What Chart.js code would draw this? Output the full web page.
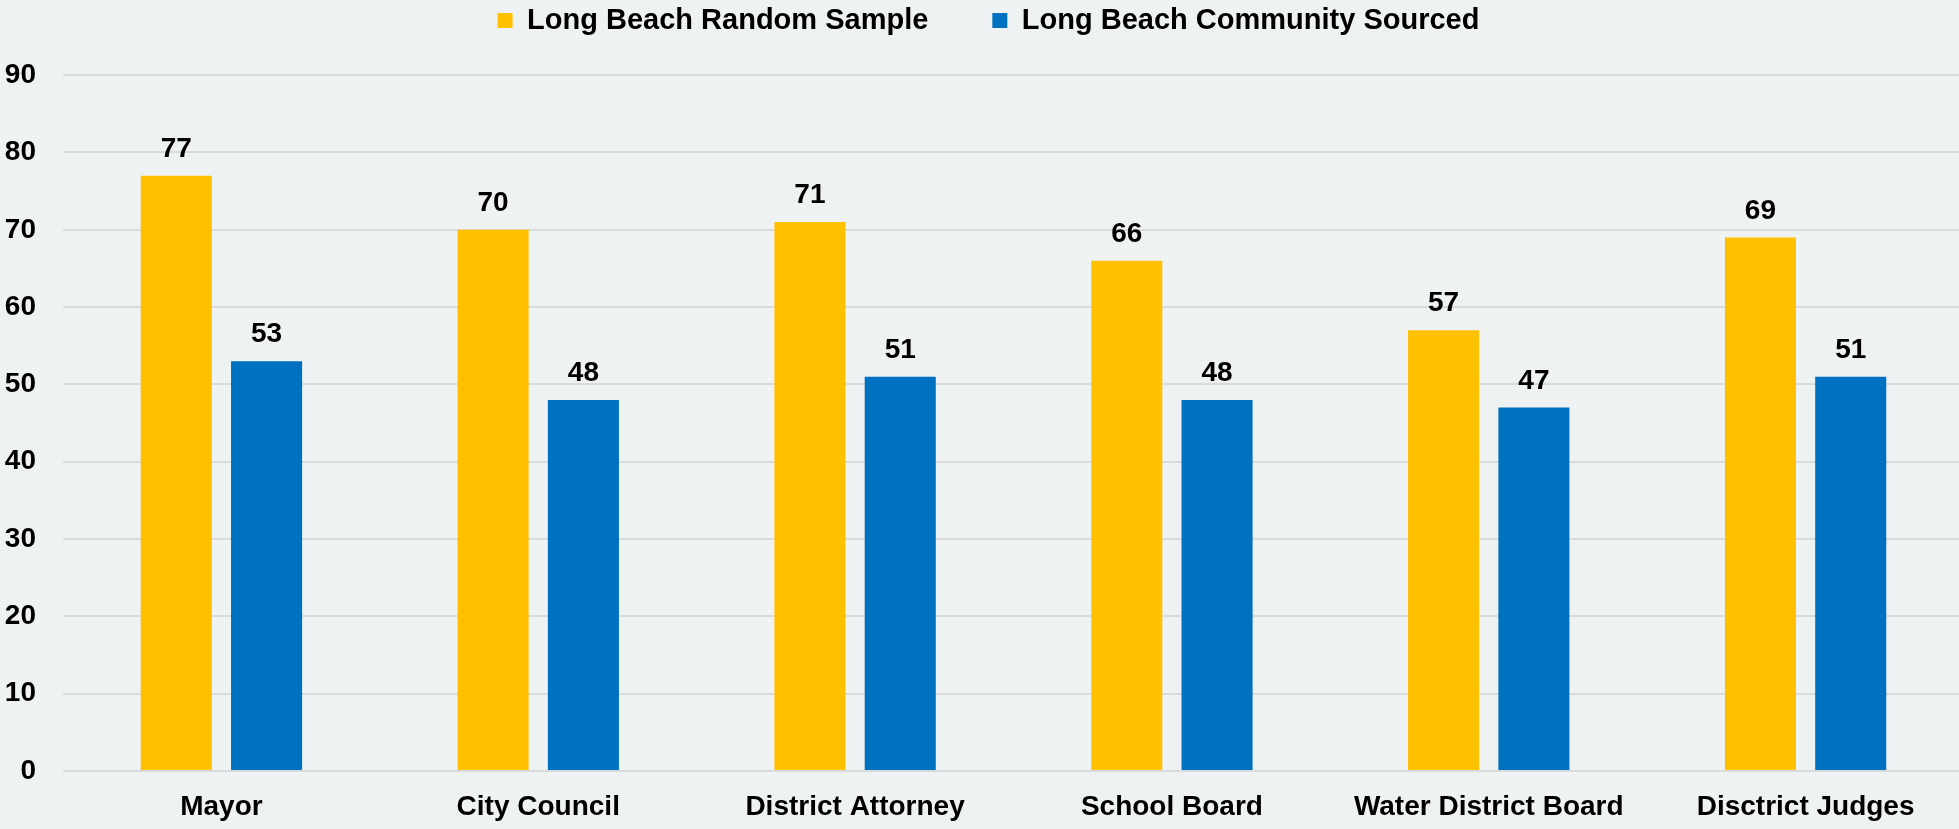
<!DOCTYPE html>
<html>
<head>
<meta charset="utf-8">
<script src="https://cdn.jsdelivr.net/npm/chart.js@4.4.0/dist/chart.umd.min.js"></script>
<style>
  html, body { margin: 0; padding: 0; background: #EFF2F3; }
  #wrap { width: 1959px; height: 829px; }
</style>
</head>
<body>
<div id="wrap"><canvas id="c" width="1959" height="829"></canvas></div>
<script>
const categories = ['Mayor', 'City Council', 'District Attorney', 'School Board', 'Water District Board', 'Disctrict Judges'];
const randomSample = [77, 70, 71, 66, 57, 69];
const communitySourced = [53, 48, 51, 48, 47, 51];
const seriesNames = ['Long Beach Random Sample', 'Long Beach Community Sourced'];
const yTicks = [0, 10, 20, 30, 40, 50, 60, 70, 80, 90];
const yMin = 0;
const yMax = 93.9;

const FONT = '"Liberation Sans", Arial, sans-serif';

const valueLabels = {
  id: 'valueLabels',
  afterDatasetsDraw(chart) {
    const ctx = chart.ctx;
    ctx.save();
    ctx.font = 'bold 28px ' + FONT;
    ctx.fillStyle = '#000';
    ctx.textAlign = 'center';
    ctx.textBaseline = 'alphabetic';
    chart.data.datasets.forEach((ds, i) => {
      chart.getDatasetMeta(i).data.forEach((bar, j) => {
        ctx.fillText(String(ds.data[j]), bar.x, bar.y - 19);
      });
    });
    ctx.restore();
  }
};

const layoutTweak = {
  id: 'layoutTweak',
  afterLayout(chart) {
    const x = chart.scales.x;
    x.right += 5;
    x.width += 5;
    x.configure();
    chart.legend.left += 18;
  }
};

new Chart(document.getElementById('c'), {
  type: 'bar',
  data: {
    labels: categories,
    datasets: [
      { label: seriesNames[0], data: randomSample, backgroundColor: '#FFC000',
        categoryPercentage: 0.57, barPercentage: 0.787 },
      { label: seriesNames[1], data: communitySourced, backgroundColor: '#0070C0',
        categoryPercentage: 0.57, barPercentage: 0.787 }
    ]
  },
  options: {
    responsive: false,
    animation: false,
    layout: { padding: { top: -58, left: 0, right: 0, bottom: 0 } },
    plugins: {
      legend: {
        position: 'top',
        labels: {
          color: '#000',
          font: { family: FONT, size: 29, weight: 'bold' },
          boxWidth: 15,
          boxHeight: 15,
          padding: 64
        }
      },
      tooltip: { enabled: false }
    },
    scales: {
      x: {
        grid: { display: false },
        border: { display: false },
        ticks: {
          color: '#000',
          font: { family: FONT, size: 28, weight: 'bold' },
          padding: 11,
          maxRotation: 0,
          autoSkip: false
        },
        afterFit(scale) { scale.height = 58; }
      },
      y: {
        min: yMin,
        max: yMax,
        afterBuildTicks(scale) { scale.ticks = yTicks.map(v => ({ value: v })); },
        grid: { color: '#D9DADB', lineWidth: 2, drawTicks: false },
        border: { display: false },
        ticks: {
          color: '#000',
          font: { family: FONT, size: 28, weight: 'bold' },
          padding: 27
        },
        afterFit(scale) { scale.width = 63; }
      }
    }
  },
  plugins: [valueLabels, layoutTweak]
});
</script>
</body>
</html>
